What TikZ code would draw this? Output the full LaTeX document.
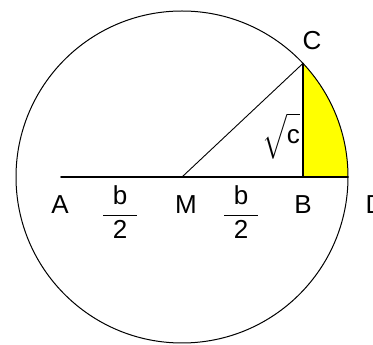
\documentclass[tikz,border=0pt]{standalone}
\usepackage{amsmath}
\usepackage{fontspec}
\setmainfont{Liberation Sans}
\usetikzlibrary{calc}
\definecolor{segfill}{HTML}{FFFF00}

\begin{document}
\begin{tikzpicture}[x=1pt,y=1pt,line cap=round,line join=round,
    lbl/.style={inner sep=0pt,font=\fontsize{26}{30}\selectfont}]
  \useasboundingbox (0,0) rectangle (373,345);
  \coordinate (M) at (182,168);
  \coordinate (A) at (61,168);
  \coordinate (B) at (303,168);
  \coordinate (D) at ($(M)+(166,0)$);
  \coordinate (C) at ($(M)+(43.2:166)$);
  \fill[segfill] (B) -- (C) arc[start angle=43.2,end angle=0,radius=166] -- cycle;
  \draw[line width=1pt] (M) circle[radius=166];
  \draw[line width=0.9pt] (M) -- (C);
  \draw[line width=1.6pt] (A) -- (D);
  \draw[line width=1.6pt] (B) -- (C);
  % labels
  \node[lbl] (labA) at (60,140) {A};
  \node[lbl] (labM) at (186,140) {M};
  \node[lbl] (labB) at (303,140) {B};
  \node[lbl] (labD) at (375,140) {D};
  \node[lbl] (labC) at (312,304) {C};
  \node[lbl] (labAM) at (120,133) {$\dfrac{\makebox[1.3em]{b}}{\makebox[1.3em]{2}}$};
  \node[lbl] (labMB) at (241,133) {$\dfrac{\makebox[1.3em]{b}}{\makebox[1.3em]{2}}$};
  \node[lbl] (labBC) at (281,209) {$\sqrt{\vphantom{\big(}\text{c}}$};
\end{tikzpicture}
\end{document}
